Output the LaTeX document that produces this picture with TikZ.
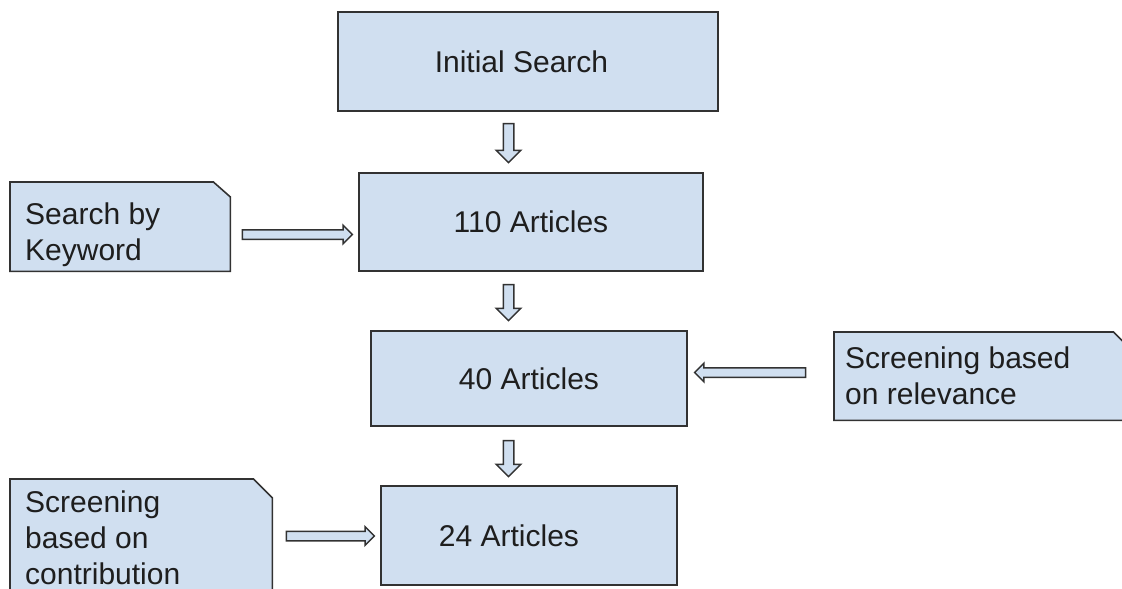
\documentclass[tikz,border=0pt]{standalone}
\usepackage{fontspec}
\setmainfont{Liberation Sans}
\usetikzlibrary{shapes.arrows}
\definecolor{boxfill}{RGB}{208,223,240}
\definecolor{boxline}{RGB}{50,50,50}
\definecolor{txt}{RGB}{30,30,30}
\tikzset{
  mainbox/.style={draw=boxline, fill=boxfill, line width=1.6pt, inner sep=0pt,
    text=txt, font=\fontsize{30}{36}\selectfont},
  sidebox/.style={inner sep=0pt, anchor=north west},
  sideframe/.style={draw=boxline, fill=boxfill, line width=1.6pt, line join=miter},
  sidetext/.style={inner sep=0pt, anchor=north west, align=left, text=txt,
    font=\fontsize{30}{36}\selectfont},
  blockarrow/.style={draw=boxline, fill=boxfill, line width=1.5pt, single arrow,
    inner sep=0pt, single arrow tip angle=90},
}
\begin{document}
\begin{tikzpicture}[x=1pt, y=-1pt]
\useasboundingbox (0,0) rectangle (1122,589);
\clip (0,0) rectangle (1122,589);
% main boxes
\node[mainbox, minimum width=380pt, minimum height=99pt] (init) at (528,61.5) {\hspace*{-13pt}Initial Search};
\node[mainbox, minimum width=344pt, minimum height=98pt] (n110) at (531,222) {110 Articles};
\node[mainbox, minimum width=316pt, minimum height=95pt] (n40) at (529,378.5) {40 Articles};
\node[mainbox, minimum width=296pt, minimum height=99pt] (n24) at (529,535.5) {\hspace*{-40pt}24 Articles};
% side boxes (named frames, chamfered top-right corner)
\node[sidebox, minimum width=220pt, minimum height=89pt] (kw) at (10,182) {};
\draw[sideframe] (kw.south west) -- (kw.north west) -- ([xshift=-17pt]kw.north east)
  -- ([yshift=-15pt]kw.north east) -- (kw.south east) -- cycle;
\node[sidetext] (kwt) at (25,203) {Search by\\Keyword};
\node[sidebox, minimum width=297pt, minimum height=88pt] (rel) at (834,332) {};
\draw[sideframe] (rel.south west) -- (rel.north west) -- ([xshift=-18pt]rel.north east)
  -- ([yshift=-18pt]rel.north east) -- (rel.south east) -- cycle;
\node[sidetext] (relt) at (845,347) {Screening based\\on relevance};
\node[sidebox, minimum width=262pt, minimum height=130pt] (con) at (10,479) {};
\draw[sideframe] (con.south west) -- (con.north west) -- ([xshift=-19pt]con.north east)
  -- ([yshift=-19pt]con.north east) -- (con.south east) -- cycle;
\node[sidetext] (cont) at (25,491) {Screening\\based on\\contribution};
% block arrows
\node[blockarrow, rotate=-90, minimum height=39pt, minimum width=23pt, single arrow head extend=7pt] (a1) at (508.5,140.5) {\rule{0pt}{9pt}};
\node[blockarrow, rotate=-90, minimum height=36pt, minimum width=23pt, single arrow head extend=7pt] (a2) at (508.5,300) {\rule{0pt}{9pt}};
\node[blockarrow, rotate=-90, minimum height=36pt, minimum width=23pt, single arrow head extend=7pt] (a3) at (508.5,456) {\rule{0pt}{9pt}};
\node[blockarrow, minimum height=110pt, minimum width=17pt, single arrow head extend=4.5pt] (a4) at (295,234.5) {\rule{0pt}{8pt}};
\node[blockarrow, rotate=180, minimum height=111pt, minimum width=17pt, single arrow head extend=4.5pt] (a5) at (752.5,372.5) {\rule{0pt}{8pt}};
\node[blockarrow, minimum height=88pt, minimum width=17pt, single arrow head extend=4.5pt] (a6) at (328,536) {\rule{0pt}{8pt}};
\end{tikzpicture}
\end{document}
